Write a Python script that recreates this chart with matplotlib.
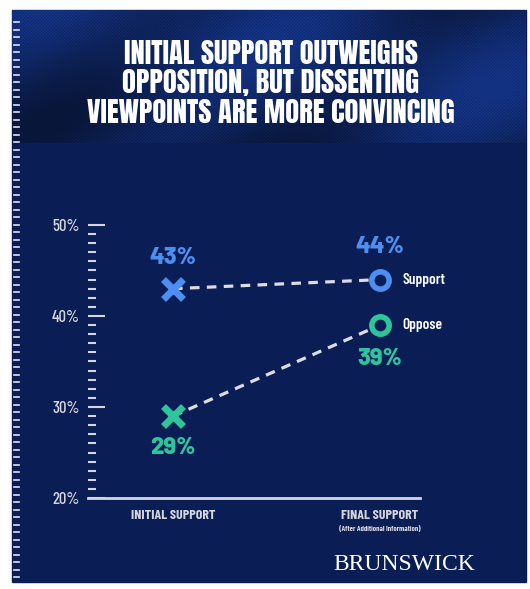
import numpy as np
import matplotlib.pyplot as plt
from matplotlib.patches import Rectangle

categories = ["INITIAL SUPPORT", "FINAL SUPPORT"]
support = [43, 44]
oppose = [29, 39]
title = "INITIAL SUPPORT OUTWEIGHS\nOPPOSITION, BUT DISSENTING\nVIEWPOINTS ARE MORE CONVINCING"

W, H = 530, 589
blue = "#4d8ef0"
teal = "#2ec49c"
navy = "#0a1e55"
grey = "#d4d6de"
cond = ["Barlow Condensed", "DejaVu Sans"]
wide = ["Barlow", "DejaVu Sans"]
head = ["Anton", "Barlow Condensed", "DejaVu Sans"]

fig = plt.figure(figsize=(W / 100, H / 100), dpi=100)
fig.patch.set_facecolor("white")

# background panels (pixel coords via a full-figure axes)
bg = fig.add_axes([0, 0, 1, 1])
bg.set_xlim(0, W)
bg.set_ylim(H, 0)
bg.axis("off")
bg.add_patch(Rectangle((12, 10), 514, 572, color=navy))
# halftone-ish header
yy, xx = np.mgrid[0:134, 0:514]
shade = 0.72 + 0.28 * np.sin(xx / 70.0 + 1.0) * np.cos(yy / 40.0 + xx / 110.0)
dots = 0.85 + 0.15 * np.sin(xx * 1.9) * np.sin(yy * 1.9)
shade = shade * dots
img = np.zeros((134, 514, 3))
img[..., 0] = 0.09 * shade
img[..., 1] = 0.23 * shade
img[..., 2] = 0.60 * shade
bg.imshow(img, extent=(12, 526, 143, 10), aspect="auto", zorder=1)
# dashed strip on left edge
for y in np.arange(22, 580, 7.5):
    bg.plot([14, 19], [y, y], color="#e0e4f0", lw=1.2, zorder=2)

bg.text(271, 83, title, color="white", fontsize=20.5,
        family=head, ha="center", va="center", linespacing=1.12, zorder=3)

# chart axes
ax = fig.add_axes([88 / W, 1 - 498 / H, 332 / W, 273 / H])
ax.patch.set_alpha(0)
ax.set_xlim(-85 / 207, 1 + 40 / 207)
ax.set_ylim(20, 50)
for s in ["top", "right", "left"]:
    ax.spines[s].set_visible(False)
ax.spines["bottom"].set_color(grey)
ax.spines["bottom"].set_linewidth(2)

ax.set_yticks([20, 30, 40, 50])
ax.set_yticklabels(["20%", "30%", "40%", "50%"], color=grey, fontsize=12,
                   family=cond, fontweight=500)
ax.set_yticks(np.arange(20, 51, 1), minor=True)
ax.tick_params(axis="y", which="major", direction="in", length=12, width=1.5, color=grey, pad=6)
ax.tick_params(axis="y", which="minor", direction="in", length=6, width=1.5, color=grey)
ax.set_xticks([])

xs = [0, 1]
ax.plot(xs, support, ls=(0, (3, 2.3)), color="#dcdde3", lw=2.3, zorder=2, clip_on=False)
ax.plot(xs, oppose, ls=(0, (3, 2.3)), color="#dcdde3", lw=2.3, zorder=2, clip_on=False)
ax.plot(0, support[0], marker="x", ms=14, mew=5, color=blue, zorder=3, clip_on=False)
ax.plot(0, oppose[0], marker="x", ms=14, mew=5, color=teal, zorder=3, clip_on=False)
ax.plot(1, support[1], marker="o", ms=12.5, mew=4, mfc=navy, mec=blue, zorder=3, clip_on=False)
ax.plot(1, oppose[1], marker="o", ms=12.5, mew=4, mfc=navy, mec=teal, zorder=3, clip_on=False)

lab = dict(fontsize=17, fontweight=800, family=wide, ha="center", va="center")
ax.text(0, support[0] + 3.4, f"{support[0]}%", color=blue, **lab)
ax.text(0, oppose[0] - 3.5, f"{oppose[0]}%", color=teal, **lab)
ax.text(1, support[1] + 3.6, f"{support[1]}%", color=blue, **lab)
ax.text(1, oppose[1] - 3.7, f"{oppose[1]}%", color=teal, **lab)
ax.text(1.11, support[1], "Support", color="white", fontsize=11, fontweight=600,
        family=cond, ha="left", va="center")
ax.text(1.11, oppose[1], "Oppose", color="white", fontsize=11, fontweight=600,
        family=cond, ha="left", va="center")

for x, c in zip(xs, categories):
    ax.text(x, 18.1, c, color=grey, fontsize=10, fontweight=700, family=cond,
            ha="center", va="center", clip_on=False)
ax.text(1, 16.6, "(After Additional Information)", color=grey, fontsize=5.5,
        fontweight=700, family=cond, ha="center", va="center")

bg.text(404, 565, "BRUNSWICK", color="white", fontsize=17, family="Liberation Serif",
        ha="center", va="center", zorder=3)

fig.savefig("out.png", dpi=100, facecolor="white")
